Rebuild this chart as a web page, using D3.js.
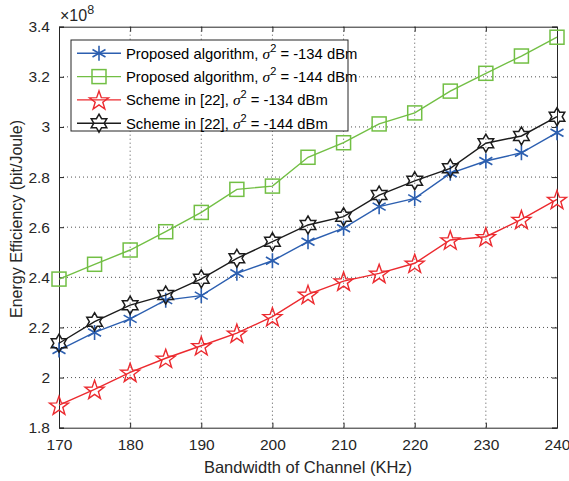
<!DOCTYPE html>
<html><head><meta charset="utf-8">
<script src="https://cdn.jsdelivr.net/npm/d3@7"></script>
<style>body{margin:0;background:#fff}text{font-family:"Liberation Sans",Arial,sans-serif}</style>
</head><body><svg id="c" width="569" height="481"></svg>
<script>
const bandwidth = [170,175,180,185,190,195,200,205,210,215,220,225,230,235,240];
const proposed134 = [2.110,2.180,2.234,2.309,2.327,2.416,2.466,2.542,2.596,2.682,2.715,2.815,2.864,2.897,2.977];
const proposed144 = [2.393,2.452,2.509,2.582,2.659,2.751,2.764,2.879,2.937,3.012,3.056,3.143,3.214,3.283,3.358];
const scheme134 = [1.890,1.953,2.021,2.077,2.127,2.177,2.243,2.332,2.385,2.416,2.456,2.549,2.562,2.631,2.711];
const scheme144 = [2.137,2.223,2.289,2.329,2.394,2.476,2.542,2.609,2.642,2.728,2.785,2.835,2.935,2.964,3.041];
const xTicks = [170,180,190,200,210,220,230,240];
const yTicks = [1.8,2,2.2,2.4,2.6,2.8,3,3.2,3.4];
const seriesNames = ["Proposed algorithm, ","Proposed algorithm, ","Scheme in [22], ","Scheme in [22], "];
const noiseLabels = [" = -134 dBm"," = -144 dBm"," = -134 dBm"," = -144 dBm"];

const series = [
  {v: proposed134, color:"#2c5fb0", marker:"asterisk"},
  {v: proposed144, color:"#72bf44", marker:"square"},
  {v: scheme134, color:"#ec2a2f", marker:"pentagram"},
  {v: scheme144, color:"#1c1c1c", marker:"hexagram"}
];

const svg = d3.select("#c");
const L=59, R=557, T=26.7, B=427.7;
const x = d3.scaleLinear().domain([170,240]).range([L,R]);
const y = d3.scaleLinear().domain([1.8,3.4]).range([B,T]);
const g = svg.append("g");

// grid
g.selectAll(".gx").data(xTicks.slice(1,-1)).enter().append("line")
  .attr("x1",d=>x(d)).attr("x2",d=>x(d)).attr("y1",T).attr("y2",B)
  .attr("stroke","#262626").attr("stroke-width",0.8).attr("stroke-dasharray","1,3");
g.selectAll(".gy").data(yTicks.slice(1,-1)).enter().append("line")
  .attr("y1",d=>y(d)).attr("y2",d=>y(d)).attr("x1",L).attr("x2",R)
  .attr("stroke","#262626").attr("stroke-width",0.8).attr("stroke-dasharray","1,3");

// axes
const ax = d3.axisBottom(x).tickValues(xTicks).tickSize(-5).tickPadding(11).tickFormat(d3.format("d"));
const ay = d3.axisLeft(y).tickValues(yTicks).tickSize(-5).tickPadding(9).tickFormat(d=>d3.format("")(+d.toFixed(1)));
const gx = svg.append("g").attr("transform",`translate(0,${B})`).call(ax);
const gy = svg.append("g").attr("transform",`translate(${L},0)`).call(ay);
const axT = d3.axisTop(x).tickValues(xTicks).tickSize(-5).tickFormat("");
const ayR = d3.axisRight(y).tickValues(yTicks).tickSize(-5).tickFormat("");
svg.append("g").attr("transform",`translate(0,${T})`).call(axT);
svg.append("g").attr("transform",`translate(${R},0)`).call(ayR);
svg.selectAll(".domain").attr("stroke","#262626").attr("stroke-width",1);
svg.selectAll(".tick line").attr("stroke","#262626");
svg.selectAll(".tick text").attr("fill","#262626").style("font-size","15.5px").style("font-family","Liberation Sans, Arial, sans-serif");

// exponent
const ex = svg.append("text").attr("x",L+1).attr("y",21).attr("fill","#262626").style("font-size","16px");
ex.append("tspan").text("\u00d710");
ex.append("tspan").attr("dy",-7).style("font-size","12.5px").text("8");

// labels
svg.append("text").attr("x",(L+R)/2).attr("y",473).attr("text-anchor","middle").attr("fill","#262626").style("font-size","16.5px").text("Bandwidth of Channel (KHz)");
svg.append("text").attr("transform",`translate(22,219) rotate(-90)`).attr("text-anchor","middle").attr("fill","#262626").style("font-size","16px").text("Energy Efficiency (bit/Joule)");

function starPath(n, ro, ri){
  let p=[];
  for(let i=0;i<2*n;i++){const r=i%2?ri:ro;const a=Math.PI*i/n - Math.PI/2;p.push([r*Math.cos(a),r*Math.sin(a)]);}
  return "M"+p.map(q=>q[0].toFixed(2)+","+q[1].toFixed(2)).join("L")+"Z";
}
function drawMarker(sel, type, color){
  if(type==="asterisk"){
    const r=7.5;
    let d="";
    for(let i=0;i<3;i++){const a=Math.PI*i/3+Math.PI/2;d+=`M${r*Math.cos(a)},${r*Math.sin(a)}L${-r*Math.cos(a)},${-r*Math.sin(a)}`;}
    sel.append("path").attr("d",d).attr("stroke",color).attr("stroke-width",1.6).attr("fill","none");
  } else if(type==="square"){
    sel.append("rect").attr("x",-7).attr("y",-7).attr("width",14).attr("height",14).attr("fill","none").attr("stroke",color).attr("stroke-width",1.5);
  } else if(type==="pentagram"){
    sel.append("path").attr("d",starPath(5,10,4)).attr("transform","translate(0,1)").attr("fill","none").attr("stroke",color).attr("stroke-width",1.4);
  } else {
    sel.append("path").attr("d",starPath(6,9,5.2)).attr("fill","none").attr("stroke",color).attr("stroke-width",1.5);
  }
}

const line = d3.line().x((d,i)=>x(bandwidth[i])).y(d=>y(d));
series.forEach(s=>{
  svg.append("path").datum(s.v).attr("d",line).attr("fill","none").attr("stroke",s.color).attr("stroke-width",1.4);
  s.v.forEach((v,i)=>{
    const m=svg.append("g").attr("transform",`translate(${x(bandwidth[i])},${y(v)})`);
    drawMarker(m,s.marker,s.color);
  });
});

// legend
const lg = svg.append("g");
lg.append("rect").attr("x",71).attr("y",40).attr("width",277).attr("height",91).attr("fill","#fff").attr("stroke","#262626").attr("stroke-width",1);
series.forEach((s,i)=>{
  const yy = 53.3 + i*23.3;
  lg.append("line").attr("x1",77).attr("x2",121).attr("y1",yy).attr("y2",yy).attr("stroke",s.color).attr("stroke-width",1.4);
  drawMarker(lg.append("g").attr("transform",`translate(99,${yy})`),s.marker,s.color);
  const t = lg.append("text").attr("x",126).attr("y",yy+5.5).attr("fill","#000").style("font-size","14.8px");
  t.append("tspan").text(seriesNames[i]);
  t.append("tspan").style("font-style","italic").style("font-family","Liberation Serif, serif").style("font-size","15.5px").text("\u03c3");
  t.append("tspan").attr("dy",-7).style("font-size","11px").text("2");
  t.append("tspan").attr("dy",7).text(noiseLabels[i]);
});
</script></body></html>
